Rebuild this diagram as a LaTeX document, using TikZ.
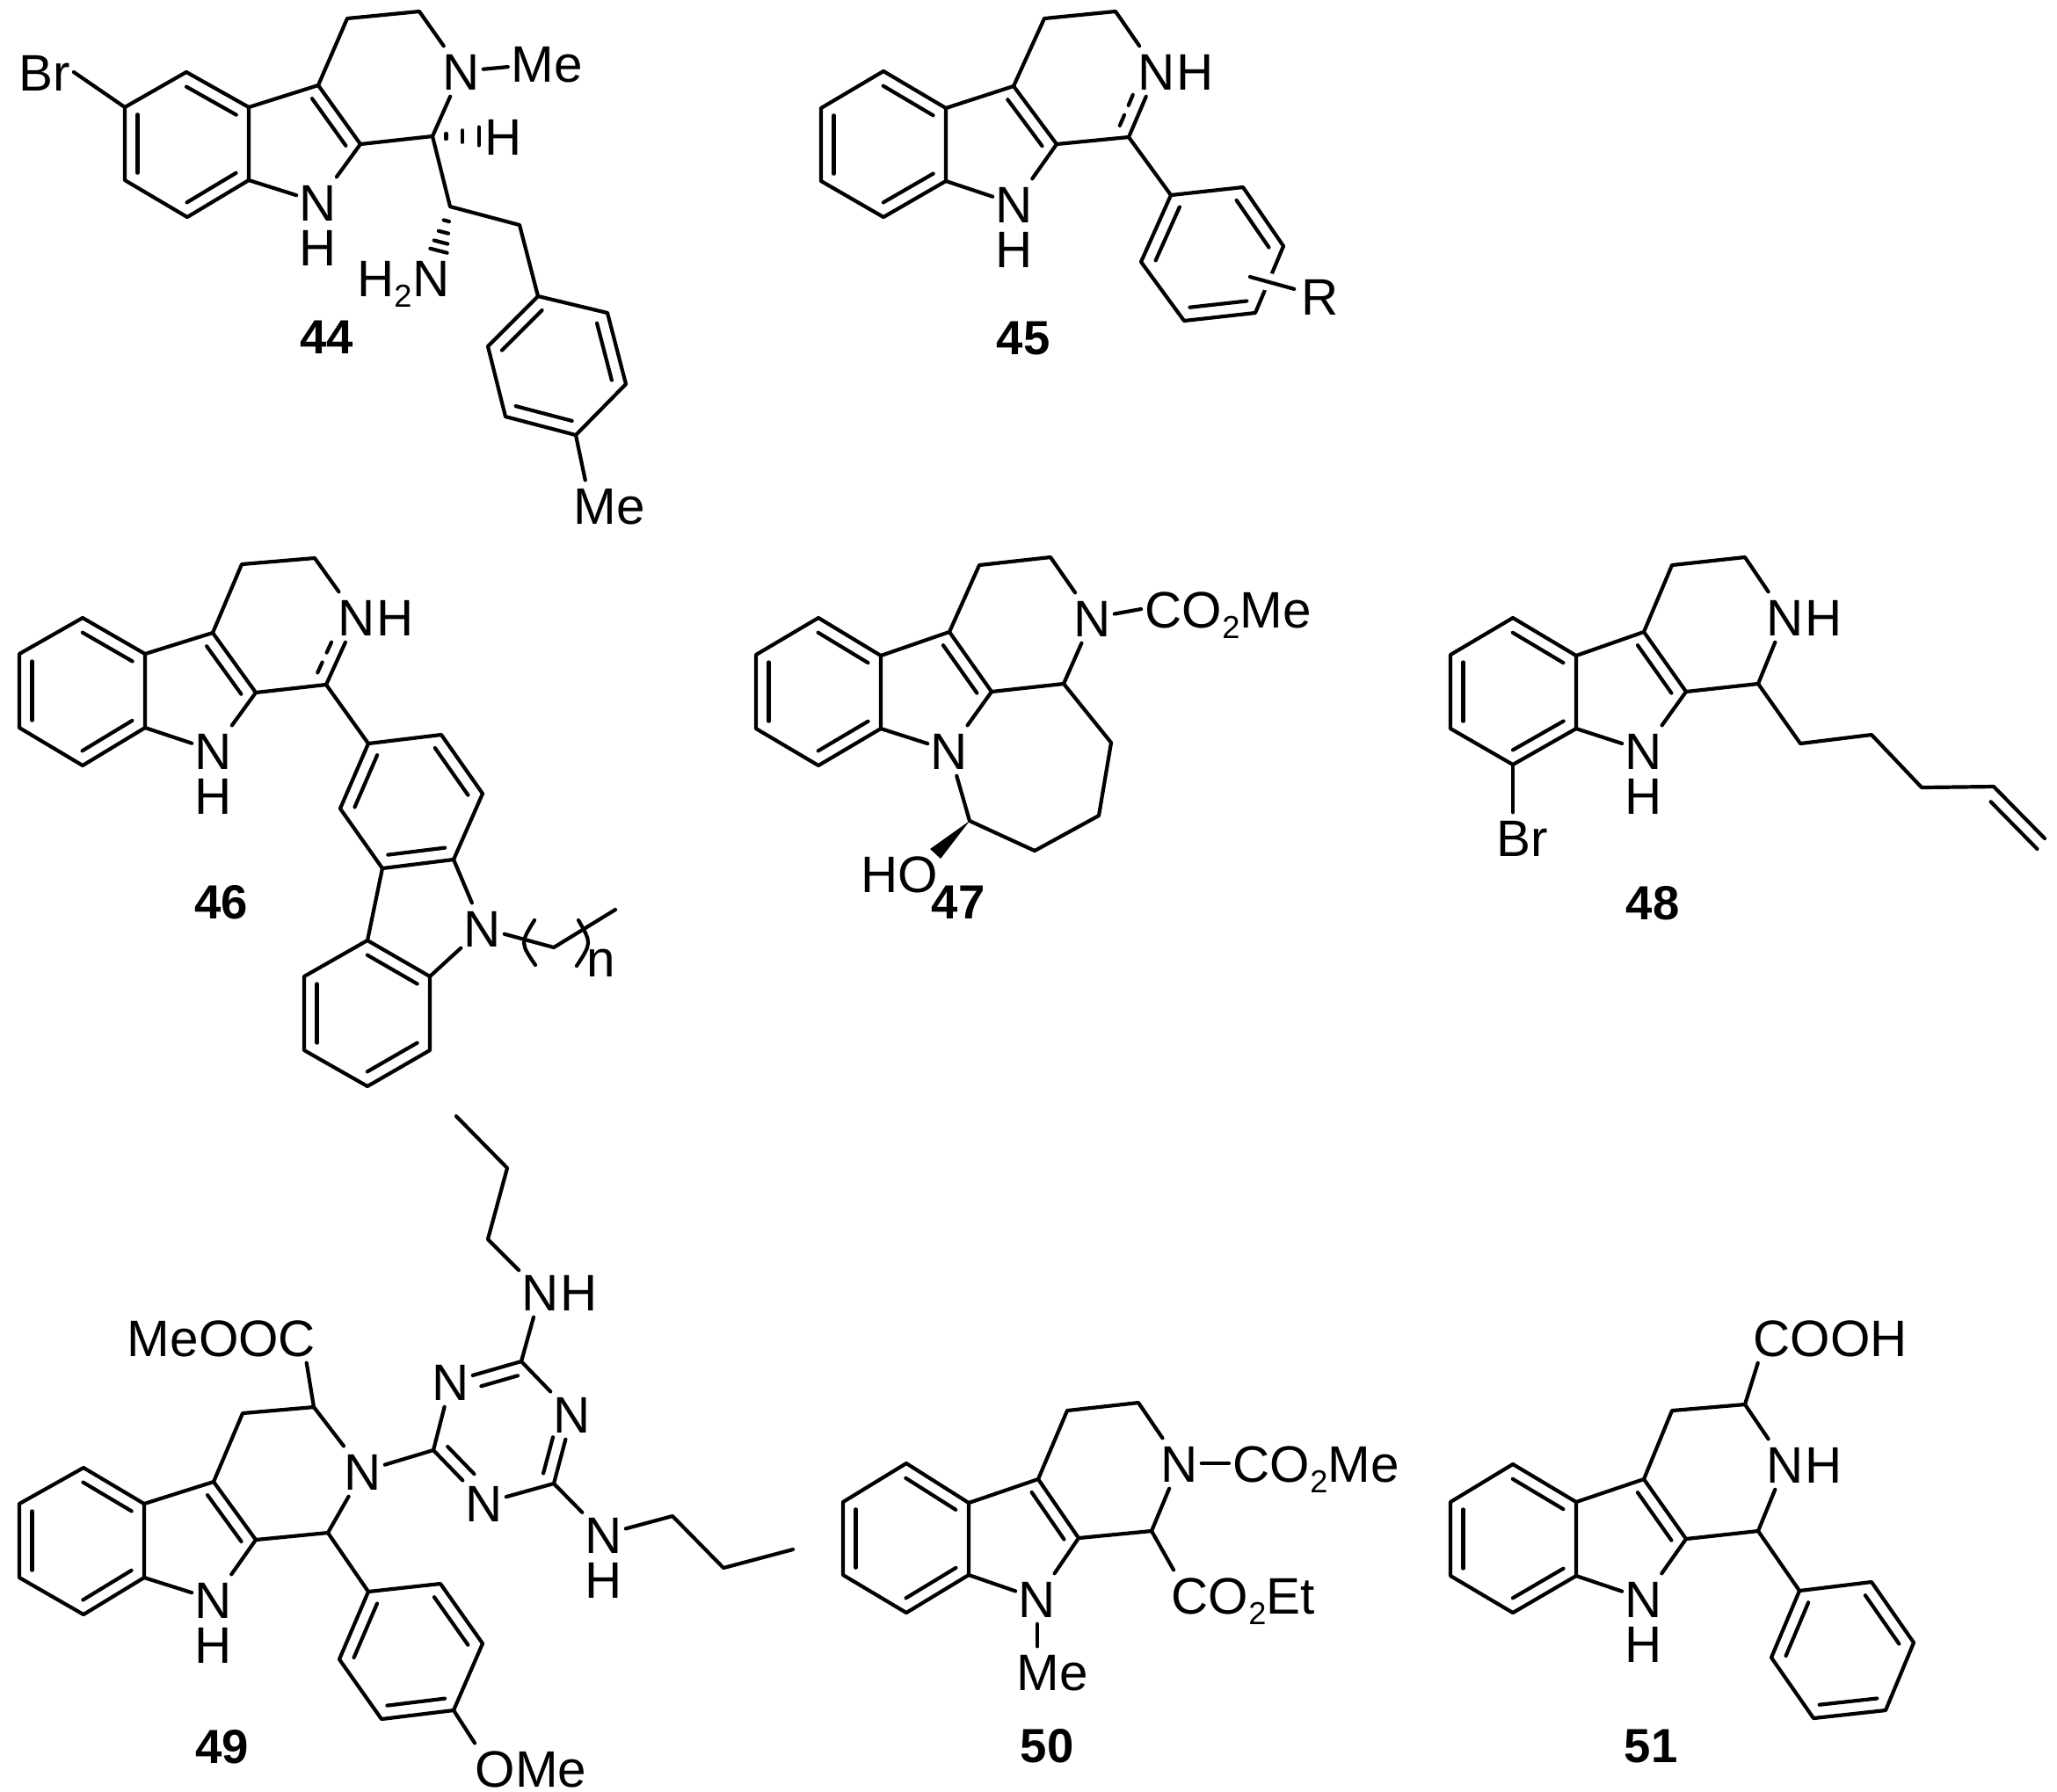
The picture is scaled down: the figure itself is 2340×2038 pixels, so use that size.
\documentclass[tikz,border=0pt]{standalone}
\usepackage{fontspec}
\setmainfont{Liberation Sans}
\usetikzlibrary{calc,positioning}

\tikzset
{
	bond/.style		= {draw, line width = 0.042cm, line cap = round, line join = round},
	atom/.style		=
	{
		font			= \fontsize{16.6pt}{20pt}\selectfont,
		inner xsep		= 0.03cm,
		inner ysep		= 0.07cm,
		text height		= 0.42cm,
		text depth		= 0cm
	},
	grp/.style		= {atom, inner xsep = 0.04cm, anchor = west},
	molnum/.style	= {font = \bfseries\fontsize{15.5pt}{18pt}\selectfont, inner sep = 0cm}
}

% inner line of a double bond, on the left going from #1 to #2
\newcommand{\dbl}[2]{\draw[bond] ($(#1)!.1!(#2)!.145cm!90:(#2)$) -- ($(#2)!.1!(#1)!.145cm!-90:(#1)$);}
% same, when #2 is a labelled atom
\newcommand{\dbln}[3][]{\draw[bond,#1] ($(#2)!.1!(#3)!.145cm!90:(#3)$) -- ($(#2)!.62!(#3)!.145cm!90:(#3)$);}
% hashed bond, #3 = places of the strokes
\newcommand{\hashb}[3]{\foreach \t in {#3} \draw[bond] ($(#1)!\t!(#2)!{\t*.16cm}!90:(#2)$) -- ($(#1)!\t!(#2)!{\t*.16cm}!-90:(#2)$);}
% benzene ring with the two-ring part that every molecule has
\newcommand{\carbocore}
{
	\draw[bond] (b1) -- (b2) -- (b3) -- (b4) -- (b5) -- (b6) -- (b1);
	\draw[bond] (b6) -- (p1) -- (p2) -- (n9) -- (b5);
	\draw[bond] (p2) -- (c1) -- (n2) -- (c3) -- (c4) -- (p1);
	\dbl{b6}{b1} \dbl{b2}{b3} \dbl{b4}{b5} \dbl{p2}{p1}
}
% plain ring drawn through a1 ... a6, three inner lines
\newcommand{\arylring}
{
	\draw[bond] (a1) -- (a2) -- (a3) -- (a4) -- (a5) -- (a6) -- (a1);
	\dbl{a1}{a6} \dbl{a5}{a4} \dbl{a3}{a2}
}
\newcommand{\subtwo}{\raisebox{-.12cm}{\fontsize{10.3pt}{12pt}\selectfont 2}}

\begin{document}
\begin{tikzpicture}[x=0.01cm,y=-0.01cm]
	\useasboundingbox (0,0) rectangle (2340,2038);
	%
	% 44
	\begin{scope}[name prefix=m44-]
		\coordinate (b1) at (212,82); \coordinate (b2) at (142,122); \coordinate (b3) at (142,205);
		\coordinate (b4) at (213,247); \coordinate (b5) at (283,205); \coordinate (b6) at (283,122);
		\coordinate (p1) at (362,97); \coordinate (p2) at (410,164);
		\coordinate (c1) at (492,155); \coordinate (c3) at (477,13); \coordinate (c4) at (395,21);
		\coordinate (ch) at (512,235); \coordinate (ct) at (591,256);
		\coordinate (a1) at (612,337); \coordinate (a2) at (691,356); \coordinate (a3) at (712,437);
		\coordinate (a4) at (655,495); \coordinate (a5) at (575,474); \coordinate (a6) at (555,394);
		\node[atom] (n9) at (362,230) {N};
		\node[atom,below=-0.06cm of n9] (h9) {H};
		\node[atom] (n2) at (525,81) {N};
		\node[atom] (me) at (622,72) {Me};
		\node[atom] (br) at (51,82) {Br};
		\node[atom] (hc) at (573,155) {H};
		\node[atom] (nh) at (491,316) {N};
		\node[atom,left=-0.06cm of nh] (hh) {H\subtwo};
		\node[atom] (met) at (693,575) {Me};
		\node[molnum] (lab) at (372,384) {44};
		\carbocore
		\arylring
		\draw[bond] (n2) -- (me);
		\draw[bond] (b2) -- (br.east);
		\draw[bond] (c1) -- (ch) -- (ct) -- (a1);
		\draw[bond] (a4) -- ([xshift=0.17cm]met.north west);
		\hashb{c1}{hc}{.19,.42,.65}
		\hashb{ch}{nh}{.2,.36,.5,.62}
	\end{scope}
	%
	% 45
	\begin{scope}[name prefix=m45-]
		\coordinate (b1) at (1005,81); \coordinate (b2) at (934,123); \coordinate (b3) at (934,206);
		\coordinate (b4) at (1005,247); \coordinate (b5) at (1076,206); \coordinate (b6) at (1076,123);
		\coordinate (p1) at (1153,98); \coordinate (p2) at (1202,164);
		\coordinate (c1) at (1284,156); \coordinate (c3) at (1269,13); \coordinate (c4) at (1188,21);
		\coordinate (a1) at (1332,222); \coordinate (a2) at (1414,213); \coordinate (a3) at (1460,280);
		\coordinate (a4) at (1428,356); \coordinate (a5) at (1347,365); \coordinate (a6) at (1298,298);
		\coordinate (rs) at (1422,315);
		\node[atom] (n9) at (1154,232) {N};
		\node[atom,below=-0.06cm of n9] (h9) {H};
		\node[atom] (n2) at (1316,81) {N};
		\node[atom,right=-0.06cm of n2] (h2) {H};
		\node[atom,inner xsep=0.08cm] (rr) at (1502,337) {R};
		\node[molnum] (lab) at (1164,385) {45};
		\carbocore
		\arylring
		\dbln[dash pattern=on 0.13cm off 0.12cm]{c1}{n2}
		\draw[bond] (c1) -- (a1);
		\draw[bond,preaction={draw=white,line width=0.2cm,line cap=butt}] (rs) -- (rr);
	\end{scope}
	%
	% 46
	\begin{scope}[name prefix=m46-]
		\coordinate (b1) at (94,703); \coordinate (b2) at (22,744); \coordinate (b3) at (22,828);
		\coordinate (b4) at (94,871); \coordinate (b5) at (165,828); \coordinate (b6) at (165,744);
		\coordinate (p1) at (242,720); \coordinate (p2) at (291,788);
		\coordinate (c1) at (371,779); \coordinate (c3) at (358,635); \coordinate (c4) at (275,642);
		\coordinate (a1) at (419,846); \coordinate (a2) at (502,836); \coordinate (a3) at (549,903);
		\coordinate (a4) at (516,978); \coordinate (a5) at (435,988); \coordinate (a6) at (387,920);
		\coordinate (r1) at (418,1070); \coordinate (r2) at (346,1111); \coordinate (r3) at (346,1195);
		\coordinate (r4) at (418,1236); \coordinate (r5) at (489,1195); \coordinate (r6) at (489,1111);
		\coordinate (t1) at (630,1078); \coordinate (t2) at (700,1035);
		\coordinate (pa) at (608,1047); \coordinate (pb) at (592,1073); \coordinate (pc) at (609,1098);
		\coordinate (qa) at (658,1047); \coordinate (qb) at (673,1073); \coordinate (qc) at (656,1099);
		\node[atom] (n9) at (243,854) {N};
		\node[atom,below=-0.06cm of n9] (h9) {H};
		\node[atom] (n2) at (406,702) {N};
		\node[atom,right=-0.06cm of n2] (h2) {H};
		\node[atom] (nc) at (549,1056) {N};
		\node[atom,text height=0.3cm,anchor=base] (nn) at (684,1111) {n};
		\node[molnum] (lab) at (252,1027) {46};
		\carbocore
		\arylring
		\dbln[dash pattern=on 0.13cm off 0.12cm]{c1}{n2}
		\draw[bond] (c1) -- (a1);
		\draw[bond] (r1) -- (r2) -- (r3) -- (r4) -- (r5) -- (r6) -- (r1);
		\dbl{r6}{r1} \dbl{r2}{r3} \dbl{r4}{r5}
		\draw[bond] (a5) -- (r1);
		\draw[bond] (r6) -- (nc) -- (a4);
		\draw[bond] (nc) -- (t1) -- (t2);
		\draw[bond] (pa) .. controls (pb) .. (pc);
		\draw[bond] (qa) .. controls (qb) .. (qc);
	\end{scope}
	%
	% 47
	\begin{scope}[name prefix=m47-]
		\coordinate (b1) at (931,703); \coordinate (b2) at (860,745); \coordinate (b3) at (860,829);
		\coordinate (b4) at (931,871); \coordinate (b5) at (1002,829); \coordinate (b6) at (1002,746);
		\coordinate (p1) at (1080,719); \coordinate (p2) at (1128,787);
		\coordinate (c1) at (1210,778); \coordinate (c3) at (1195,634); \coordinate (c4) at (1114,643);
		\coordinate (s1) at (1264,845); \coordinate (s2) at (1250,928);
		\coordinate (s3) at (1177,968); \coordinate (s4) at (1103,934);
		\coordinate (w1) at (1058,966); \coordinate (w2) at (1070,977);
		\node[atom] (n9) at (1080,854) {N};
		\node[atom] (n2) at (1243,703) {N};
		\node[grp] (co) at (1298,693) {CO\subtwo Me};
		\node[atom] (ho) at (1023,994) {HO};
		\node[molnum] (lab) at (1090,1027) {47};
		\carbocore
		\draw[bond] (n2) -- (co.west);
		\draw[bond] (c1) -- (s1) -- (s2) -- (s3) -- (s4) -- (n9);
		\fill (s4) -- (w1) -- (w2) -- cycle;
	\end{scope}
	%
	% 48
	\begin{scope}[name prefix=m48-]
		\coordinate (b1) at (1721,703); \coordinate (b2) at (1650,745); \coordinate (b3) at (1650,829);
		\coordinate (b4) at (1721,870); \coordinate (b5) at (1793,829); \coordinate (b6) at (1793,746);
		\coordinate (p1) at (1870,719); \coordinate (p2) at (1918,787);
		\coordinate (c1) at (2000,778); \coordinate (c3) at (1985,634); \coordinate (c4) at (1902,643);
		\coordinate (e1) at (2048,846); \coordinate (e2) at (2129,836); \coordinate (e3) at (2186,896);
		\coordinate (e4) at (2268,895); \coordinate (e5) at (2326,954);
		\node[atom] (n9) at (1870,854) {N};
		\node[atom,below=-0.06cm of n9] (h9) {H};
		\node[atom] (n2) at (2031,702) {N};
		\node[atom,right=-0.06cm of n2] (h2) {H};
		\node[atom] (br) at (1732,953) {Br};
		\node[molnum] (lab) at (1880,1028) {48};
		\carbocore
		\draw[bond] (b4) -- (b4 |- br.north);
		\draw[bond] (c1) -- (e1) -- (e2) -- (e3) -- (e4) -- (e5);
		\draw[bond] ($(e4)!.12!(e5)!.145cm!-90:(e5)$) -- ($(e5)!-.03!(e4)!.145cm!90:(e4)$);
	\end{scope}
	%
	% 49
	\begin{scope}[name prefix=m49-]
		\coordinate (b1) at (95,1670); \coordinate (b2) at (22,1711); \coordinate (b3) at (22,1795);
		\coordinate (b4) at (95,1837); \coordinate (b5) at (164,1795); \coordinate (b6) at (164,1711);
		\coordinate (p1) at (243,1686); \coordinate (p2) at (291,1752);
		\coordinate (c1) at (373,1744); \coordinate (c3) at (357,1601); \coordinate (c4) at (276,1608);
		\coordinate (a1) at (419,1811); \coordinate (a2) at (501,1802); \coordinate (a3) at (549,1870);
		\coordinate (a4) at (516,1946); \coordinate (a5) at (434,1956); \coordinate (a6) at (386,1888);
		\coordinate (t1) at (493,1650); \coordinate (t3) at (593,1549); \coordinate (t5) at (630,1688);
		\coordinate (u1) at (555,1410); \coordinate (u2) at (577,1329); \coordinate (u3) at (519,1270);
		\coordinate (v1) at (765,1725); \coordinate (v2) at (823,1784); \coordinate (v3) at (902,1763);
		\node[atom] (n9) at (243,1820) {N};
		\node[atom,below=-0.06cm of n9] (h9) {H};
		\node[atom] (n2) at (413,1674) {N};
		\node[atom] (mo) at (252,1522) {MeOOC};
		\node[atom] (nt) at (513,1572) {N};
		\node[atom] (nr) at (651,1609) {N};
		\node[atom] (nb) at (551,1710) {N};
		\node[atom] (nu) at (615,1470) {N};
		\node[atom,right=-0.06cm of nu] (hu) {H};
		\node[atom] (nv) at (687,1746) {N};
		\node[atom,below=-0.06cm of nv] (hv) {H};
		\node[atom] (om) at (604,2012) {OMe};
		\node[molnum] (lab) at (253,1988) {49};
		\carbocore
		\arylring
		\draw[bond] (c3) -- ([xshift=-0.14cm]mo.south east);
		\draw[bond] (c1) -- (a1);
		\draw[bond] (a4) -- ([xshift=0.03cm]om.north west);
		\draw[bond] (n2) -- (t1) -- (nt) -- (t3) -- (nr) -- (t5) -- (nb) -- (t1);
		\dbln{t3}{nt} \dbln{t5}{nr} \dbln{t1}{nb}
		\draw[bond] (t3) -- (nu) -- (u1) -- (u2) -- (u3);
		\draw[bond] (t5) -- (nv) -- (v1) -- (v2) -- (v3);
	\end{scope}
	%
	% 50
	\begin{scope}[name prefix=m50-]
		\coordinate (b1) at (1031,1665); \coordinate (b2) at (959,1709); \coordinate (b3) at (959,1792);
		\coordinate (b4) at (1031,1835); \coordinate (b5) at (1102,1792); \coordinate (b6) at (1102,1710);
		\coordinate (p1) at (1181,1683); \coordinate (p2) at (1227,1750);
		\coordinate (c1) at (1310,1742); \coordinate (c3) at (1295,1596); \coordinate (c4) at (1214,1605);
		\node[atom] (n9) at (1180,1819) {N};
		\node[atom] (n2) at (1342,1665) {N};
		\node[atom] (me) at (1197,1902) {Me};
		\node[grp] (cm) at (1398,1665) {CO\subtwo Me};
		\node[grp] (ce) at (1328,1815) {CO\subtwo Et};
		\node[molnum] (lab) at (1191,1987) {50};
		\carbocore
		\draw[bond] (n2) -- (cm.west);
		\draw[bond] (n9) -- (n9 |- me.north);
		\draw[bond] (c1) -- ([xshift=0.07cm]ce.north west);
	\end{scope}
	%
	% 51
	\begin{scope}[name prefix=m51-]
		\coordinate (b1) at (1721,1666); \coordinate (b2) at (1650,1709); \coordinate (b3) at (1650,1793);
		\coordinate (b4) at (1721,1835); \coordinate (b5) at (1793,1793); \coordinate (b6) at (1793,1709);
		\coordinate (p1) at (1870,1683); \coordinate (p2) at (1918,1751);
		\coordinate (c1) at (2000,1742); \coordinate (c3) at (1985,1598); \coordinate (c4) at (1902,1605);
		\coordinate (a1) at (2047,1810); \coordinate (a2) at (2129,1800); \coordinate (a3) at (2177,1869);
		\coordinate (a4) at (2145,1946); \coordinate (a5) at (2063,1955); \coordinate (a6) at (2015,1886);
		\node[atom] (n9) at (1870,1819) {N};
		\node[atom,below=-0.06cm of n9] (h9) {H};
		\node[atom] (n2) at (2031,1666) {N};
		\node[atom,right=-0.06cm of n2] (h2) {H};
		\node[atom] (ac) at (2082,1522) {COOH};
		\node[molnum] (lab) at (1878,1987) {51};
		\carbocore
		\arylring
		\draw[bond] (c3) -- ([xshift=0.09cm]ac.south west);
		\draw[bond] (c1) -- (a1);
	\end{scope}
	%
\end{tikzpicture}
\end{document}
